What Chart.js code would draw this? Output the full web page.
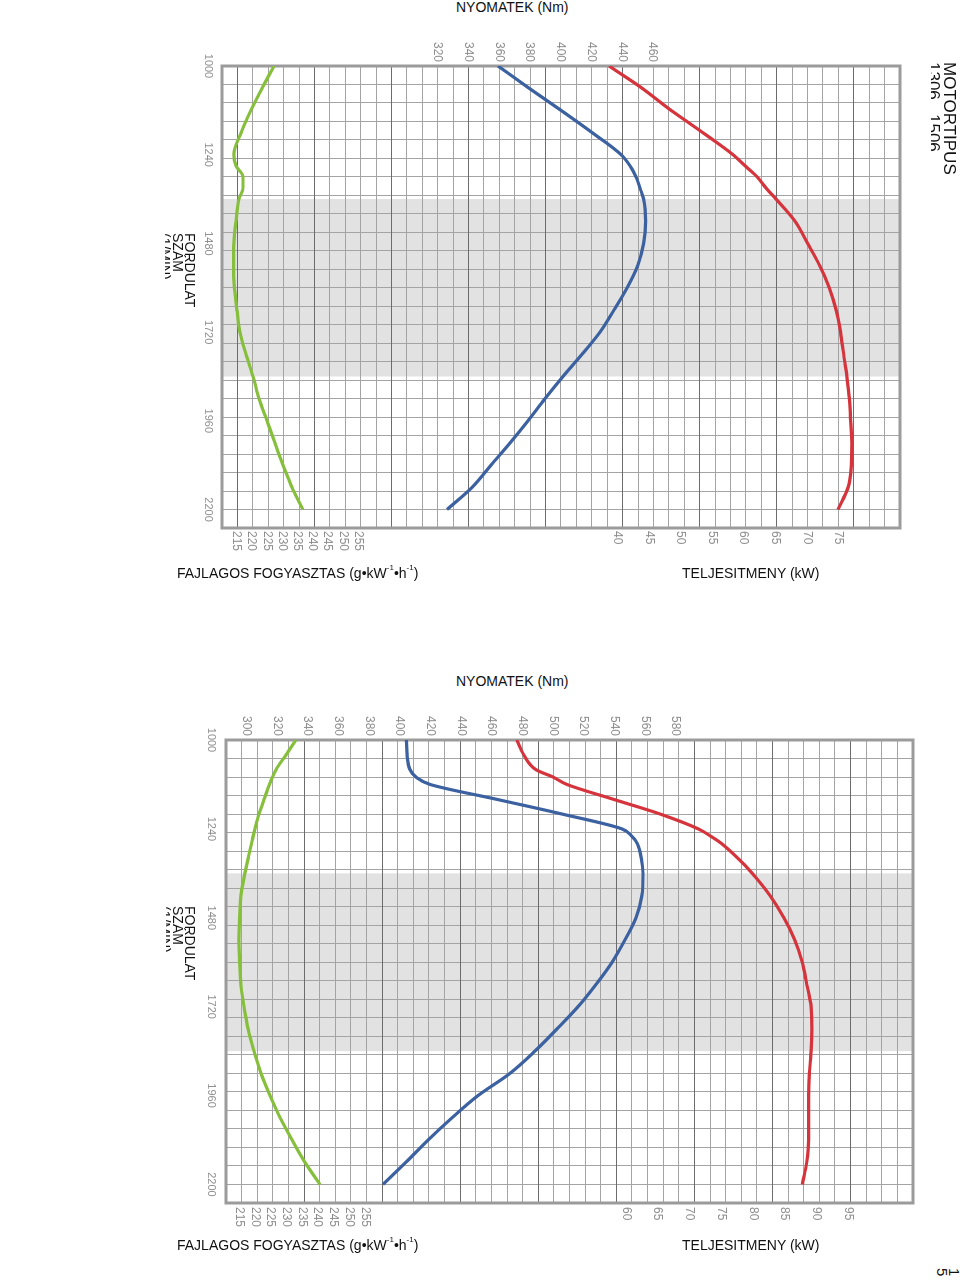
<!DOCTYPE html>
<html>
<head>
<meta charset="utf-8">
<script src="https://cdn.jsdelivr.net/npm/chart.js@4.4.1/dist/chart.umd.min.js"></script>
<style>
html,body{margin:0;padding:0;background:#fff;}
body{width:960px;height:1283px;position:relative;overflow:hidden;font-family:"Liberation Sans",Arial,sans-serif;color:#111;}
.wrap{position:absolute;left:0;width:960px;height:550px;z-index:1;}
.rot{position:absolute;left:0;top:0;width:550px;height:960px;transform-origin:0 0;transform:translateX(960px) rotate(90deg);}
.rot canvas{display:block;width:550px;height:960px;}
.lbl{position:absolute;z-index:2;font-size:14px;line-height:16px;white-space:nowrap;}
.lbl sup{font-size:8px;line-height:8px;vertical-align:top;position:relative;top:-1px;}
.vert{position:absolute;z-index:2;writing-mode:vertical-rl;overflow:hidden;white-space:nowrap;}
</style>
</head>
<body>

<div class="lbl" style="left:456px;top:-1px;">NYOMATEK (Nm)</div>
<div class="vert" style="left:931px;top:62px;width:26px;height:130px;font-size:17px;line-height:16px;">MOTORTÍPUS<br>1306&nbsp;&nbsp;&nbsp;1506</div>
<div class="vert" style="left:165px;top:233px;width:31px;height:110px;font-size:14px;line-height:12.5px;">FORDULAT<br>SZÁM<br>(1/MIN)</div>
<div class="wrap" style="top:30px;"><div class="rot"><canvas id="c1" width="550" height="960"></canvas></div></div>
<div class="lbl" style="left:177px;top:565px;">FAJLAGOS FOGYASZTAS (g•kW<sup>-1</sup>•h<sup>-1</sup>)</div>
<div class="lbl" style="left:682px;top:565px;">TELJESITMENY (kW)</div>

<div class="lbl" style="left:456px;top:673px;">NYOMATEK (Nm)</div>
<div class="vert" style="left:166px;top:906px;width:30px;height:110px;font-size:14px;line-height:12.5px;">FORDULAT<br>SZÁM<br>(1/MIN)</div>
<div class="wrap" style="top:700px;"><div class="rot"><canvas id="c2" width="550" height="960"></canvas></div></div>
<div class="lbl" style="left:177px;top:1237px;">FAJLAGOS FOGYASZTAS (g•kW<sup>-1</sup>•h<sup>-1</sup>)</div>
<div class="lbl" style="left:682px;top:1237px;">TELJESITMENY (kW)</div>
<div class="vert" style="left:934px;top:1268px;width:26px;height:20px;font-size:15px;line-height:12px;">1<br>5</div>

<script>
// ---------- shared ----------
const rpmTickLabels = [1000, 1240, 1480, 1720, 1960, 2200];
const ratedBand = [1360, 1840];

// ---------- chart 1 (upper) ----------
const top_rpm = [1000,1060,1120,1180,1240,1270,1300,1330,1360,1420,1480,1540,1600,1660,1720,1780,1840,1900,1960,2020,2080,2140,2200];
const top_consumption = [227.3,223.4,219.7,216.5,214.1,214.8,217.1,217.1,215.8,214.8,214.1,214.0,214.3,215.1,216.1,218.1,220.4,222.4,225.0,227.6,230.3,233.2,236.8];
const top_torque = [359.4,379.6,400.4,420.6,439.5,445.3,449.2,451.8,454.2,455.5,454.2,450.3,443.4,434.9,425.8,414.1,401.7,390.0,378.9,367.2,354.8,342.5,326.2];
const top_power = [38.7,43.9,48.5,53.5,58.3,60.2,62.1,63.5,65.1,68.1,70.1,72.0,73.5,74.6,75.3,75.8,76.3,76.7,76.9,77.1,77.0,76.5,74.9];
const top_torqueTicks = [320,340,360,380,400,420,440,460];
const top_consumptionTicks = [215,220,225,230,235,240,245,250,255];
const top_powerTicks = [40,45,50,55,60,65,70,75];

// ---------- chart 2 (lower) ----------
const bot_rpm = [1000,1040,1080,1100,1120,1160,1200,1240,1260,1280,1320,1360,1420,1480,1540,1600,1660,1720,1780,1840,1900,1960,2020,2080,2140,2200];
const bot_consumption = [233.0,229.9,226.7,225.6,224.6,222.9,221.3,220.0,219.4,218.9,217.8,216.8,215.5,215.1,214.9,215.1,215.5,216.5,217.8,219.7,221.9,224.8,228.0,231.8,235.9,240.7];
const bot_torque = [404.4,404.8,406.7,410.6,419.8,463.1,505.9,544.9,551.5,555.0,557.6,558.7,558.0,554.1,546.9,538.5,528.0,516.3,502.6,488.2,471.9,451.1,434.1,418.5,404.1,389.1];
const bot_power = [42.8,43.9,45.8,48.5,50.7,58.0,65.4,71.4,73.4,75.1,77.7,79.9,82.7,84.9,86.6,87.8,88.5,89.2,89.3,89.2,88.9,88.8,88.8,88.8,88.5,87.8];
const bot_torqueTicks = [300,320,340,360,380,400,420,440,460,480,500,520,540,560,580];
const bot_consumptionTicks = [215,220,225,230,235,240,245,250,255];
const bot_powerTicks = [60,65,70,75,80,85,90,95];

// ---------- styles ----------
const GREEN = '#86bf3b', BLUE = '#3b61a0', RED = '#d5343c';
const TICK = '#8e8e8e', MINOR = '#a4a4a4', DARK = '#6c6c6c', FRAME = '#9b9b9b', BAND = '#e2e2e2';
const FAMILY = '"Liberation Sans", Arial, sans-serif';

function seq(a, b, s) { const r = []; for (let v = a; v <= b + 1e-9; v += s) r.push(v); return r; }
function fixed(arr) { return s => { s.ticks = arr.map(v => ({ value: v })); }; }

const deco = {
  id: 'deco',
  afterLayout(chart) {
    // the power axis shares the label band of the consumption axis: widen its label box
    const p = chart.scales.power;
    p.right = p.left + 60;
    p.width = 60;
  },
  beforeDraw(chart) {
    const { ctx, chartArea: a, scales } = chart;
    const x1 = scales.rpm.getPixelForValue(ratedBand[0]);
    const x2 = scales.rpm.getPixelForValue(ratedBand[1]);
    ctx.save();
    ctx.fillStyle = '#fff';
    ctx.fillRect(0, 0, chart.width, chart.height);
    ctx.fillStyle = BAND;
    ctx.fillRect(x1, a.top, x2 - x1, a.bottom - a.top);
    ctx.restore();
  },
  beforeDatasetsDraw(chart) {
    const { ctx, chartArea: a } = chart;
    ctx.save();
    ctx.strokeStyle = FRAME;
    ctx.lineWidth = 3;
    ctx.strokeRect(a.left, a.top, a.right - a.left, a.bottom - a.top);
    ctx.restore();
  }
};

function build(id, d, L) {
  const pts = ys => d.rpm.map((r, i) => ({ x: r, y: ys[i] }));
  const line = (ys, color, axis) => ({
    data: pts(ys), xAxisID: 'rpm', yAxisID: axis, borderColor: color, borderWidth: 3.2,
    pointRadius: 0, fill: false, cubicInterpolationMode: 'monotone'
  });
  const valueAxis = (pos, min, max, ticks, w, weight, pad, size) => ({
    type: 'linear', position: pos, min, max, weight,
    afterBuildTicks: fixed(ticks),
    afterFit: s => { s.width = w; },
    grid: { display: false, drawTicks: false }, border: { display: false },
    ticks: { autoSkip: false, padding: pad, color: TICK, font: { family: FAMILY, size }, callback: v => String(v) }
  });
  return new Chart(document.getElementById(id), {
    type: 'line',
    data: { datasets: [
      line(d.cons, GREEN, 'cons'),
      line(d.torque, BLUE, 'torque'),
      line(d.power, RED, 'power')
    ] },
    options: {
      responsive: false, animation: false,
      layout: { padding: { top: L.top, left: 0, right: 0, bottom: 0 } },
      plugins: { legend: { display: false }, tooltip: { enabled: false }, title: { display: false } },
      scales: {
        rpm: {
          type: 'linear', position: 'bottom', min: 1000, max: 2250, weight: 0,
          afterBuildTicks: fixed(rpmTickLabels),
          afterFit: s => { s.height = L.bottomH; },
          grid: { display: false, drawTicks: false }, border: { display: false },
          ticks: { autoSkip: false, minRotation: 0, maxRotation: 0, padding: L.rpmPad, color: TICK,
                   font: { family: FAMILY, size: 11 }, callback: v => String(v) }
        },
        rpmGrid: {
          type: 'linear', position: 'bottom', min: 1000, max: 2250, weight: 1,
          afterBuildTicks: s => { s.ticks = seq(1000, 2250, 50).map(v => ({ value: v })); },
          afterFit: s => { s.height = 0; },
          grid: { color: MINOR, lineWidth: 1, drawTicks: false }, border: { display: false },
          ticks: { display: false }
        },
        cell: {
          type: 'linear', position: 'left', min: 0, max: 44, weight: 1,
          afterBuildTicks: s => { s.ticks = seq(0, 44, 1).map(v => ({ value: v })); },
          afterFit: s => { s.width = 0; },
          grid: { color: c => (c.tick && Math.round(c.tick.value) % 5 === L.darkMod) ? DARK : MINOR, lineWidth: 1, drawTicks: false },
          border: { display: false },
          ticks: { display: false }
        },
        torque: valueAxis('left', L.tq[0], L.tq[1], d.torqueTicks, L.leftW, 0, 4, 12),
        power: valueAxis('right', L.pw[0], L.pw[1], d.powerTicks, 0, 0, L.rPad, 12),
        cons: valueAxis('right', L.cs[0], L.cs[1], d.consTicks, L.rightW, 1, L.rPad, 12)
      }
    },
    plugins: [deco]
  });
}

build('c1', {
  rpm: top_rpm, cons: top_consumption, torque: top_torque, power: top_power,
  torqueTicks: top_torqueTicks, consTicks: top_consumptionTicks, powerTicks: top_powerTicks
}, { top: 60, leftW: 36, rightW: 52, bottomH: 222, rpmPad: 7, rPad: 3, darkMod: 1,
     tq: [179.7, 621.1], pw: [-22.5, 84.7], cs: [210.2, 433.2] });

build('c2', {
  rpm: bot_rpm, cons: bot_consumption, torque: bot_torque, power: bot_power,
  torqueTicks: bot_torqueTicks, consTicks: bot_consumptionTicks, powerTicks: bot_powerTicks
}, { top: 47, leftW: 40, rightW: 47, bottomH: 226, rpmPad: 8, rPad: 4, darkMod: 0,
     tq: [286.7, 734.8], pw: [-3.02, 105.24], cs: [210.77, 429.5] });
</script>
</body>
</html>
